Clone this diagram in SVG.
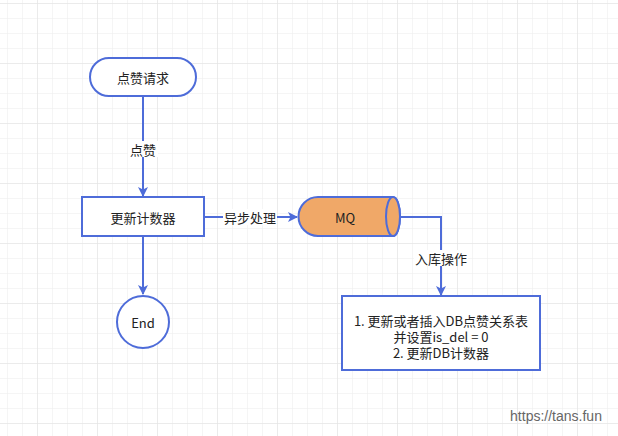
<svg xmlns="http://www.w3.org/2000/svg" width="618" height="436" viewBox="0 0 618 436">
<defs>
<pattern id="grid" x="7" y="3" width="15" height="15" patternUnits="userSpaceOnUse">
<path d="M0 0H15M0 0V15" fill="none" stroke="#ececec" stroke-width="1"/>
</pattern>
<pattern id="grid4" x="37" y="3" width="60" height="60" patternUnits="userSpaceOnUse">
<path d="M0 0H60M0 0V60" fill="none" stroke="#e2e2e2" stroke-width="1"/>
</pattern>
<marker id="arr" markerWidth="10" markerHeight="10" refX="9" refY="5" orient="auto" markerUnits="userSpaceOnUse">
<path d="M0 0L10 5L0 10L2.5 5Z" fill="#4E6CD9"/>
</marker>
</defs>
<style>
.s{fill:#fff;stroke:#4E6CD9;stroke-width:2}
.t{font-family:"Noto Sans CJK SC","Liberation Sans",sans-serif;font-size:13px;fill:#222;text-anchor:middle;dominant-baseline:central}
.c{fill:none;stroke:#4E6CD9;stroke-width:2}
.lb{fill:#fff}
</style>
<rect width="618" height="436" fill="#fff"/>
<rect width="618" height="436" fill="url(#grid)"/>
<rect width="618" height="436" fill="url(#grid4)"/>
<g id="connectors">
<path class="c" d="M143 96V196" marker-end="url(#arr)"/>
<rect class="lb" x="128" y="141" width="30" height="16"/>
<text class="t" x="143" y="149">点赞</text>
<path class="c" d="M204 217H297" marker-end="url(#arr)"/>
<rect class="lb" x="223" y="209" width="54" height="16"/>
<text class="t" x="250" y="217">异步处理</text>
<path class="c" d="M400 217H441V295" marker-end="url(#arr)"/>
<rect class="lb" x="414" y="250" width="54" height="16"/>
<text class="t" x="441" y="258">入库操作</text>
<path class="c" d="M143 236V294" marker-end="url(#arr)"/>
</g>
<g id="start">
<rect class="s" x="90" y="58" width="106" height="38" rx="19"/>
<text class="t" x="143" y="77">点赞请求</text>
</g>
<g id="counter">
<rect class="s" x="82" y="197" width="122" height="39"/>
<text class="t" x="143" y="217">更新计数器</text>
</g>
<g id="mq">
<path d="M318 197H393A7 19.5 0 0 1 393 236H318A19.5 19.5 0 0 1 318 197Z" fill="#F0A868" stroke="#4E6CD9" stroke-width="2"/>
<ellipse cx="393" cy="216.5" rx="7" ry="19.5" fill="#F0A868" stroke="#4E6CD9" stroke-width="2"/>
<text class="t" x="345" y="217">MQ</text>
</g>
<g id="db">
<rect class="s" x="342" y="296" width="198" height="74"/>
<text class="t" x="441" y="320">1. 更新或者插入DB点赞关系表</text>
<text class="t" x="441" y="336">并设置is_del = 0</text>
<text class="t" x="441" y="352">2. 更新DB计数器</text>
</g>
<g id="end">
<circle class="s" cx="143" cy="322" r="26"/>
<text class="t" x="143" y="322">End</text>
</g>
<text x="556" y="416" font-family="Liberation Sans, sans-serif" font-size="14" fill="#666" text-anchor="middle" dominant-baseline="central">https://tans.fun</text>
</svg>
